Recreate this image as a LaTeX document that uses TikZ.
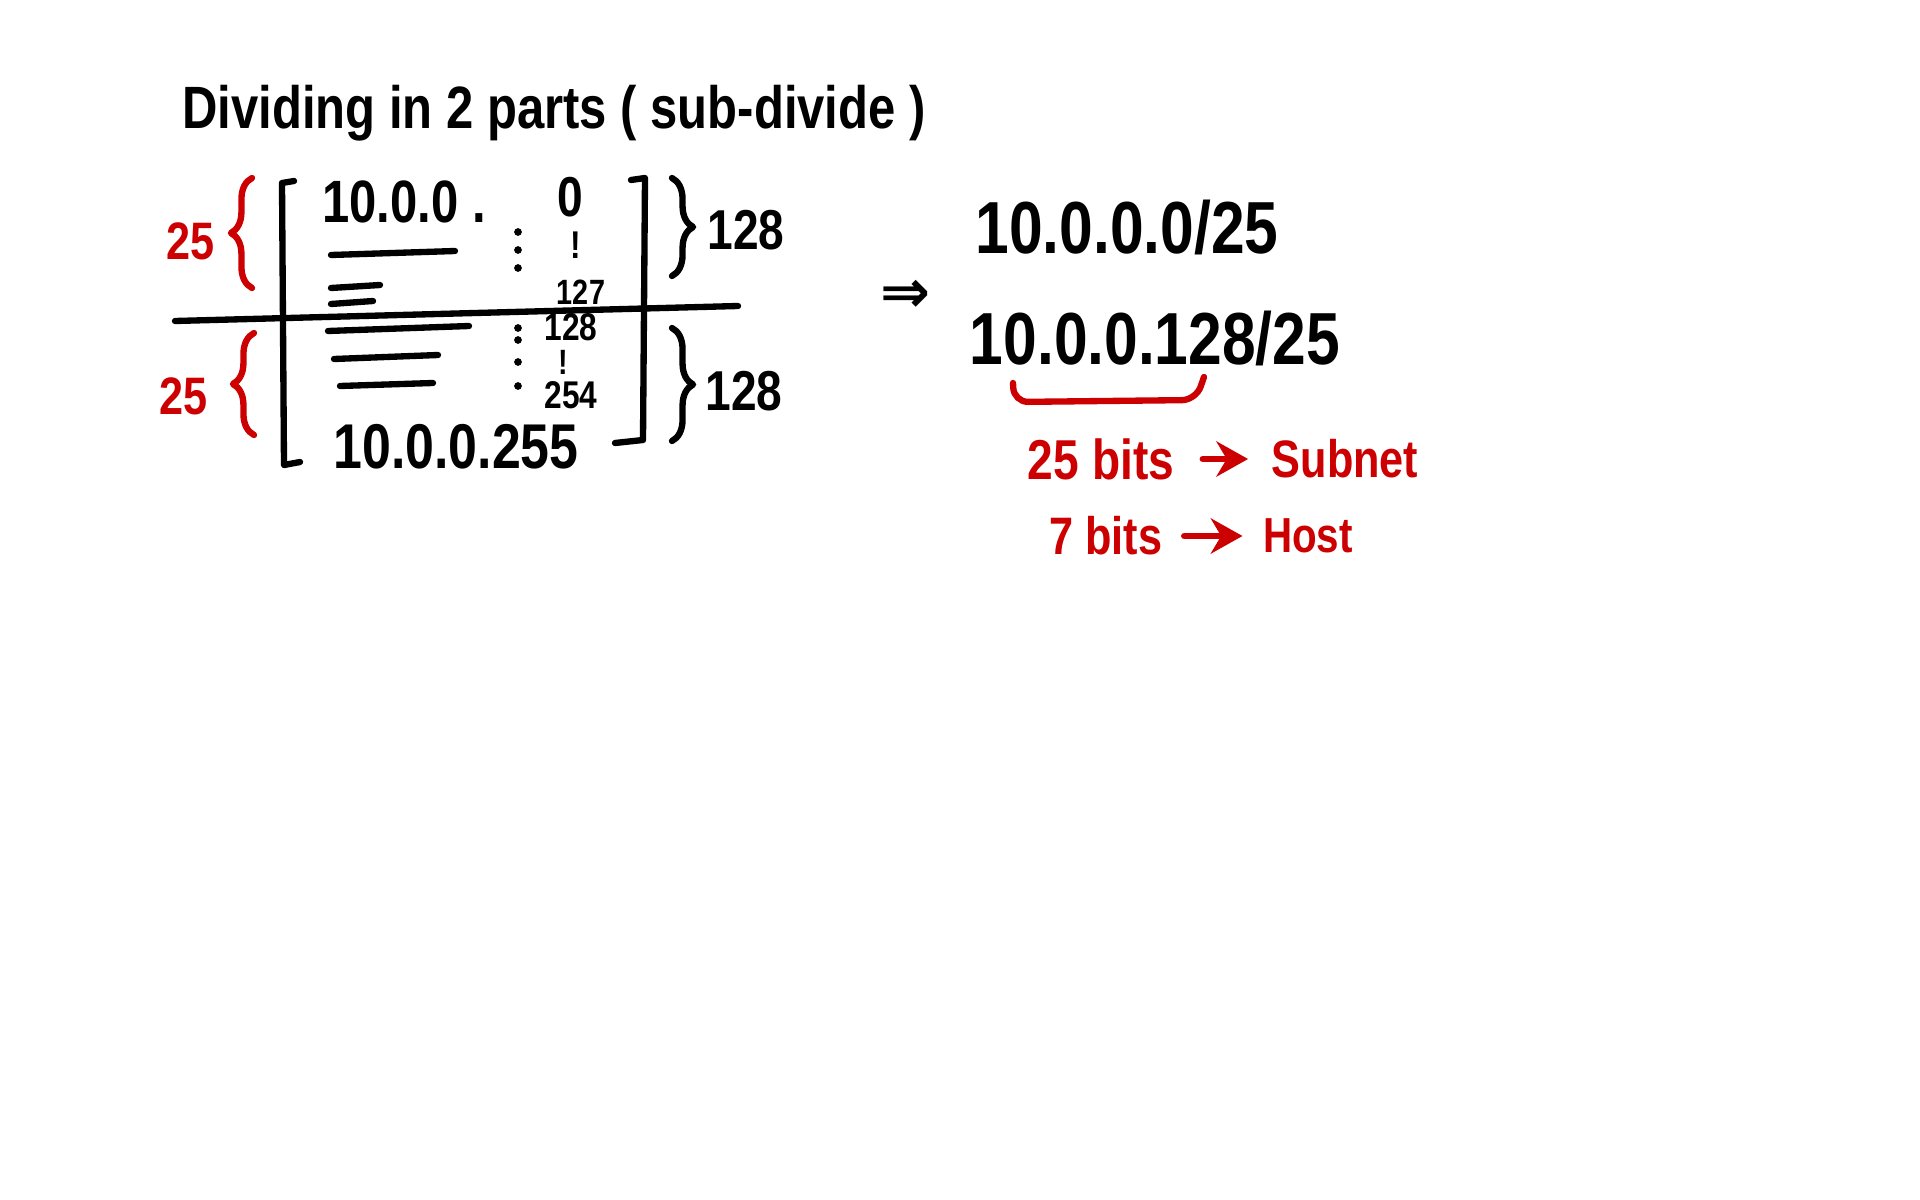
\documentclass[tikz,border=0pt]{standalone}
\usepackage{fontspec}
\setmainfont{Liberation Sans}[FakeStretch=0.82]
\newfontfamily\implfont{DejaVu Sans}
\usetikzlibrary{arrows.meta,positioning,decorations.pathreplacing}
\definecolor{InkRed}{HTML}{CC0000}
\newcommand{\inkfont}[1]{\fontsize{#1}{#1}\selectfont\bfseries}

\begin{document}
\begin{tikzpicture}[x=0.1mm,y=-0.1mm,line cap=round,line join=round,
  ink/.style={draw=black,line width=1.8pt},
  redink/.style={draw=InkRed,line width=1.8pt},
  txt/.style={inner sep=0pt,text=black},
  redtxt/.style={inner sep=0pt,text=InkRed},
  curly/.style={decorate,decoration={brace,amplitude=6pt}},
  redarrow/.style={redink,-{Stealth[length=9pt,width=10pt]}}]
\useasboundingbox[fill=white] (0,0) rectangle (1920,1200);

% title
\node[txt,font=\inkfont{17}] (title) at (554,113) {Dividing in 2 parts ( sub-divide )};

% addresses in the block
\node[txt,font=\inkfont{17}] (first) at (404,202) {10.0.0 .};
\node[txt,font=\inkfont{16}] (lo0) at (570,197) {0};
\node[txt,font=\inkfont{11}] (lobang) at (576,245) {!};
\node[txt,font=\inkfont{10}] (lo127) at (581,292) {127};
\node[txt,font=\inkfont{11}] (hi128) at (571,327) {128};
\node[txt,font=\inkfont{10}] (hibang) at (563,362) {!};
\node[txt,font=\inkfont{11}] (hi254) at (571,395) {254};
\node[txt,font=\inkfont{18}] (last) at (456,447) {10.0.0.255};
\foreach \y in {232,250,268,328,340,362,386}
  \fill (518,\y) circle (1.1pt);

% rows
\foreach \a/\b/\c/\d in {331/255/455/251,331/288/380/285,331/304/373/301,
                         328/331/469/326,334/359/438/355,340/386/433/383}
  \draw[ink] (\a,\b) -- (\c,\d);

% brackets and divider
\draw[ink] (294,181) -- (282,183) -- (284,465) -- (300,462);
\draw[ink] (631,180) -- (645,178) -- (643,440) -- (615,443);
\draw[ink] (175,321) -- (738,306);

% braces
\draw[redink,curly] (252,288) -- (252,178);
\draw[redink,curly] (254,435) -- (254,333);
\draw[ink,curly] (672,178) -- (672,276);
\draw[ink,curly] (672,328) -- (672,441);
\node[redtxt,font=\inkfont{15}] (upbits) at (191,241) {25};
\node[redtxt,font=\inkfont{15}] (lowbits) at (184,396) {25};
\node[txt,font=\inkfont{16}] (upsize) at (746,230) {128};
\node[txt,font=\inkfont{16}] (lowsize) at (744,391) {128};

% result
\node[txt,font=\implfont\fontsize{17}{17}\selectfont\bfseries] (implies) at (906,296) {⇒};
\node[txt,font=\inkfont{21}] (netA) at (1127,227) {10.0.0.0/25};
\node[txt,font=\inkfont{21}] (netB) at (1155,339) {10.0.0.128/25};
\draw[redink,rounded corners=4pt] (1013,383) -- (1014,402) -- (1196,400) -- (1204,377);

% meaning of the bits
\node[redtxt,font=\inkfont{16}] (sbits) at (1101,459) {25 bits};
\node[redtxt,font=\inkfont{15}] (subnet) at (1345,459) {Subnet};
\node[redtxt,font=\inkfont{15}] (hbits) at (1106,536) {7 bits};
\node[redtxt,font=\inkfont{14}] (host) at (1308,536) {Host};
\draw[redarrow,shorten <=2.8mm,shorten >=2.3mm] (sbits) -- (subnet);
\draw[redarrow,shorten <=2.1mm,shorten >=2mm] (hbits) -- (host);
\end{tikzpicture}
\end{document}
